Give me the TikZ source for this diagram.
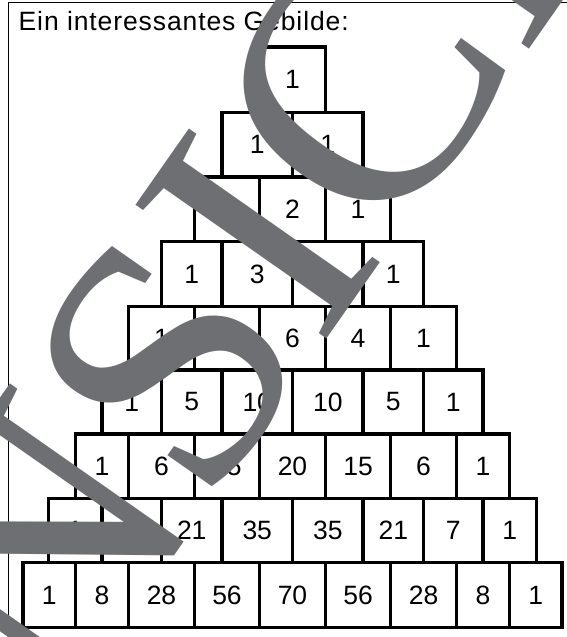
\documentclass[tikz,border=0pt]{standalone}
\usepackage{fontspec}
\setmainfont{Liberation Sans}
\newfontfamily\wmfont{Liberation Serif}
\newfontfamily\titlefont[LetterSpace=3.4]{Liberation Sans}
\definecolor{wmgray}{RGB}{110,111,114}
\tikzset{
  numbox/.style={draw=black,line width=3.3pt,inner sep=0pt,font=\fontsize{26.5}{28}\selectfont},
  wmtext/.style={text=wmgray,inner sep=0pt,rotate=55,font={\wmfont\fontsize{356}{356}\selectfont}},
  frame/.style={draw=black,line width=1.5pt}
}
\newcommand\prow[4]{%
  \foreach \xa/\xb/\v [count=\c] in {#4}{%
    \pgfmathsetmacro\w{\xb-\xa}%
    \pgfmathsetmacro\h{#3-#2}%
    \node[numbox,minimum width=\w pt,minimum height=\h pt] (r#1c\c) at ({(\xa+\xb)/2},{(#2+#3)/2}) {\v};
  }}
\begin{document}
\begin{tikzpicture}[x=1pt,y=-1pt]
\useasboundingbox (0,0) rectangle (567,637);
\clip (0,0) rectangle (567,637);
\fill[white] (0,0) rectangle (567,637);
\draw[frame] (8.3,645) -- (8.3,2.3) -- (575,2.3);
\node[anchor=base west,inner sep=0pt,font={\titlefont\fontsize{26.5}{30}\selectfont}] (title) at (18.5,30.7) {Ein interessantes Gebilde:};
\prow{1}{47}{112.5}{259.5/325.5/1}
\prow{2}{112.5}{177}{222/292.5/1,292.5/363/1}
\prow{3}{177}{241.5}{194.5/259.5/1,259.5/325.5/2,325.5/390.5/1}
\prow{4}{241.5}{306.5}{161.5/222/1,222/292.5/3,292.5/363/3,363/423.5/1}
\prow{5}{306.5}{370}{128.5/194.5/1,194.5/259.5/4,259.5/325.5/6,325.5/390.5/4,390.5/456.5/1}
\prow{6}{370}{434}{102/161.5/1,161.5/222/5,222/292.5/10,292.5/363/10,363/423.5/5,423.5/483/1}
\prow{7}{434}{498.5}{75.5/128.5/1,128.5/194.5/6,194.5/259.5/15,259.5/325.5/20,325.5/390.5/15,390.5/456.5/6,456.5/509.5/1}
\prow{8}{498.5}{562.5}{48.5/102/1,102/161.5/7,161.5/222/21,222/292.5/35,292.5/363/35,363/423.5/21,423.5/483/7,483/536.5/1}
\prow{9}{562.5}{627.5}{23/75.5/1,75.5/128.5/8,128.5/194.5/28,194.5/259.5/56,259.5/325.5/70,325.5/390.5/56,390.5/456.5/28,456.5/509.5/8,509.5/562/1}
\node[wmtext] (wm) at (258,234) {ANSICHT};
\end{tikzpicture}
\end{document}
